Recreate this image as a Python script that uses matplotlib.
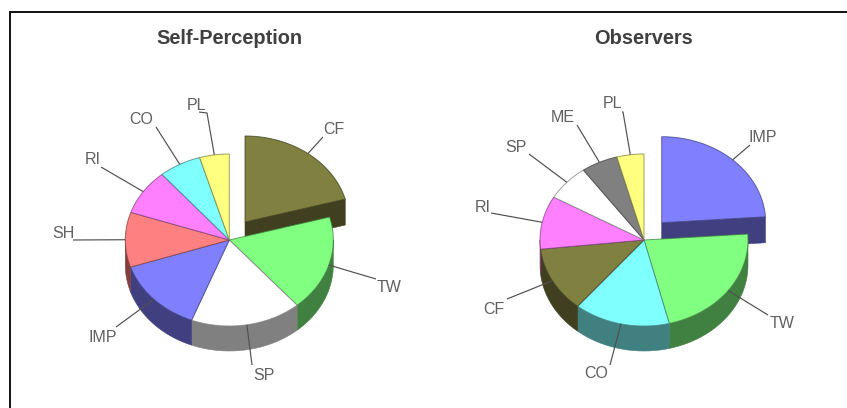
import numpy as np
import matplotlib
matplotlib.use("Agg")
import matplotlib.pyplot as plt
from matplotlib.patches import Polygon

W, H = 847, 408

# ---- data (percent shares, clockwise from 12 o'clock)
self_labels = ["CF", "TW", "SP", "IMP", "SH", "RI", "CO", "PL"]
self_values = [20.7, 18.0, 17.2, 14.0, 10.3, 8.6, 6.6, 4.6]
obs_labels = ["IMP", "TW", "CO", "CF", "RI", "SP", "ME", "PL"]
obs_values = [23.9, 22.2, 14.9, 12.3, 10.0, 6.8, 5.7, 4.2]
titles = ["Self-Perception", "Observers"]

# ---- styles
top_colors = {"CF": "#808040", "TW": "#80FF80", "SP": "#FFFFFF", "IMP": "#8080FF",
              "SH": "#FF8080", "RI": "#FF80FF", "CO": "#80FFFF", "PL": "#FFFF80",
              "ME": "#808080"}
side_colors = {"CF": "#404020", "TW": "#408040", "SP": "#808080", "IMP": "#404080",
               "SH": "#804040", "RI": "#804080", "CO": "#408080", "PL": "#808040",
               "ME": "#404040"}

# ---- layout in pixels
RX, RY, DEPTH = 104, 86, 25
self_layout = dict(center=(229.3, 240), explode=(15.7, -18), title_x=229.5,
    label_pos={"CF": (334, 130), "TW": (389, 287), "SP": (264, 375), "IMP": (103, 337),
               "SH": (63, 233), "RI": (93, 160), "CO": (141, 120), "PL": (196, 106)},
    leader_end={"CF": [(323, 137)], "TW": [(376, 279)], "SP": [(252, 365)],
                "IMP": [(116, 327)], "SH": [(73, 240)], "RI": [(101, 167)],
                "CO": [(156, 127)], "PL": [(207, 113), (199, 112)]})
obs_layout = dict(center=(644, 240), explode=(17.7, -17.3), title_x=643.5,
    label_pos={"IMP": (763, 138), "TW": (782, 324), "CO": (596, 374), "CF": (494, 309),
               "RI": (483, 207), "SP": (516, 147), "ME": (563, 117), "PL": (613, 104)},
    leader_end={"IMP": [(750, 145)], "TW": [(768, 315)], "CO": [(610, 365)],
                "CF": [(507, 299)], "RI": [(491, 213)], "SP": [(529, 154)],
                "ME": [(577, 125)], "PL": [(623, 112), (622, 112)]})

fig = plt.figure(figsize=(W / 100, H / 100), dpi=100, facecolor="white")
ax = fig.add_axes([0, 0, 1, 1])
ax.set_xlim(0, W)
ax.set_ylim(H, 0)
ax.axis("off")

# frame: only the top and left rules are inside the picture
ax.plot([10, 10, W], [H, 11.5, 11.5], color="#111111", lw=1.4, zorder=1, solid_joinstyle="miter")


def arc(cx, cy, t1, t2):
    t = np.radians(np.linspace(t1, t2, max(int(abs(t2 - t1)) * 2, 2)))
    return np.column_stack([cx + RX * np.sin(t), cy - RY * np.cos(t)])


def draw_pie(labels, values, layout, title):
    cx, cy = layout["center"]
    values = np.asarray(values, float)
    edges = np.concatenate([[0], np.cumsum(values) / values.sum() * 360])
    z = 2
    for i, name in enumerate(labels):
        t1, t2 = edges[i], edges[i + 1]
        ox, oy = layout["explode"] if i == 0 else (0, 0)
        px, py = cx + ox, cy + oy
        top = np.vstack([[px, py], arc(px, py, t1, t2)])
        # outer wall (only the part of the rim facing the viewer)
        a, b = max(t1, 90), min(t2, 270)
        if a < b:
            rim = arc(px, py, a, b)
            wall = np.vstack([rim, (rim + [0, DEPTH])[::-1]])
            ax.add_patch(Polygon(wall, fc=side_colors[name], ec=side_colors[name], lw=0.4, zorder=z))
        # cut face of the exploded slice
        if i == 0:
            e = top[-1]
            ax.add_patch(Polygon([top[0], e, e + [0, DEPTH + 1], top[0] + [0, DEPTH + 1]],
                                 fc=side_colors[name], ec=side_colors[name], lw=0.4, zorder=z))
        layer = z + (0 if i == 0 else 1)
        edge = matplotlib.colors.to_rgba(side_colors[name], 0.75)
        ax.add_patch(Polygon(top, fc=top_colors[name], ec=edge, lw=0.7, zorder=layer + 1))
        # leader and label
        mid = np.radians((t1 + t2) / 2)
        start = (px + RX * np.sin(mid), py - RY * np.cos(mid))
        pts = [start] + layout["leader_end"][name]
        xs, ys = zip(*pts)
        ax.plot(xs, ys, color="#505050", lw=0.85, zorder=6, solid_capstyle="butt")
        lx, ly = layout["label_pos"][name]
        ax.text(lx, ly, name, ha="center", va="center", fontsize=11.5, color="#606060",
                family="Liberation Sans", zorder=7)
    ax.text(layout["title_x"], 38, title, ha="center", va="center", fontsize=14.4,
            fontweight="bold", color="#404040", family="Liberation Sans", zorder=7)


draw_pie(self_labels, self_values, self_layout, titles[0])
draw_pie(obs_labels, obs_values, obs_layout, titles[1])

fig.savefig("out.png", dpi=100, facecolor="white")
